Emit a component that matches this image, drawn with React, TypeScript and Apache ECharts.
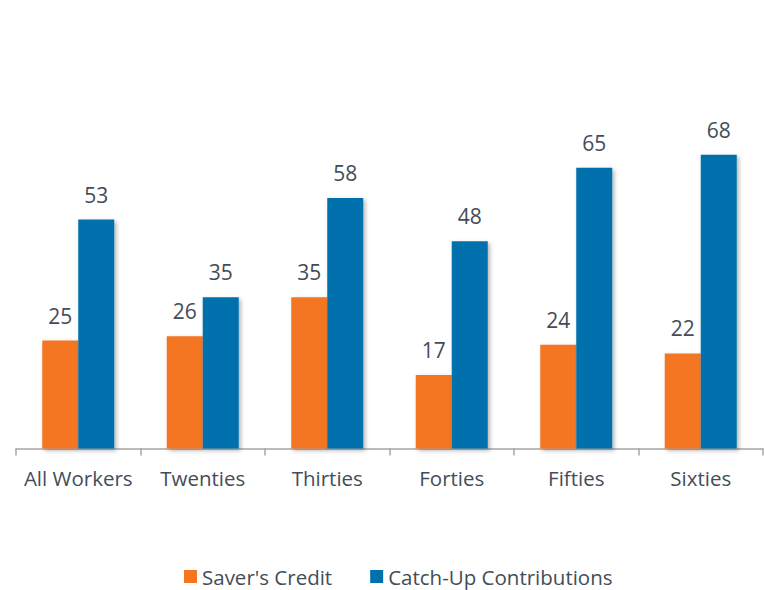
import React, { useEffect, useRef } from "react";
import * as echarts from "echarts";

const categories = ["All Workers", "Twenties", "Thirties", "Forties", "Fifties", "Sixties"];
const saversCredit = [25, 26, 35, 17, 24, 22];
const catchUp = [53, 35, 58, 48, 65, 68];
const seriesNames = ["Saver's Credit", "Catch-Up Contributions"];

const FONT = "'Open Sans', 'Noto Sans', sans-serif";
const TEXT = "#434d58";

export default function App() {
  const ref = useRef<HTMLDivElement>(null);
  useEffect(() => {
    document.body.style.margin = "0";
    if (!ref.current) return;
    const chart = echarts.init(ref.current, undefined, { renderer: "svg" });
    const barStyle = (color: string) => ({
      color,
      shadowColor: "rgba(0,0,0,0.3)",
      shadowBlur: 4,
      shadowOffsetX: 2,
      shadowOffsetY: 2,
    });
    const label = {
      show: true,
      position: "top" as const,
      distance: 14.5,
      fontSize: 21,
      fontFamily: FONT,
      color: TEXT,
    };
    chart.setOption({
      animation: false,
      textStyle: { fontFamily: FONT },
      grid: { left: 16, right: 1, top: 103, bottom: 141.5, containLabel: false },
      legend: {
        top: 566,
        left: 184,
        itemWidth: 13,
        itemHeight: 13,
        itemGap: 38,
        padding: 0,
        icon: "rect",
        textStyle: { fontSize: 20.5, color: TEXT, fontFamily: FONT },
        data: seriesNames,
      },
      xAxis: {
        type: "category",
        data: categories,
        axisLine: { show: true, lineStyle: { color: "#a6a6a6", width: 1.5 } },
        axisTick: { show: true, length: 7, lineStyle: { color: "#a6a6a6", width: 1.5 } },
        axisLabel: { interval: 0, fontSize: 20.5, color: TEXT, fontFamily: FONT, margin: 19 },
      },
      yAxis: {
        type: "value",
        min: 0,
        max: 80,
        show: false,
        splitLine: { show: false },
      },
      series: [
        {
          name: seriesNames[0],
          type: "bar",
          data: saversCredit,
          barWidth: 36,
          barGap: "0%",
          itemStyle: barStyle("#f47621"),
          label,
        },
        {
          name: seriesNames[1],
          type: "bar",
          data: catchUp,
          barWidth: 36,
          barGap: "0%",
          itemStyle: barStyle("#0071ad"),
          label,
        },
      ],
    });
    return () => chart.dispose();
  }, []);
  return <div ref={ref} style={{ width: 764, height: 590 }} />;
}
